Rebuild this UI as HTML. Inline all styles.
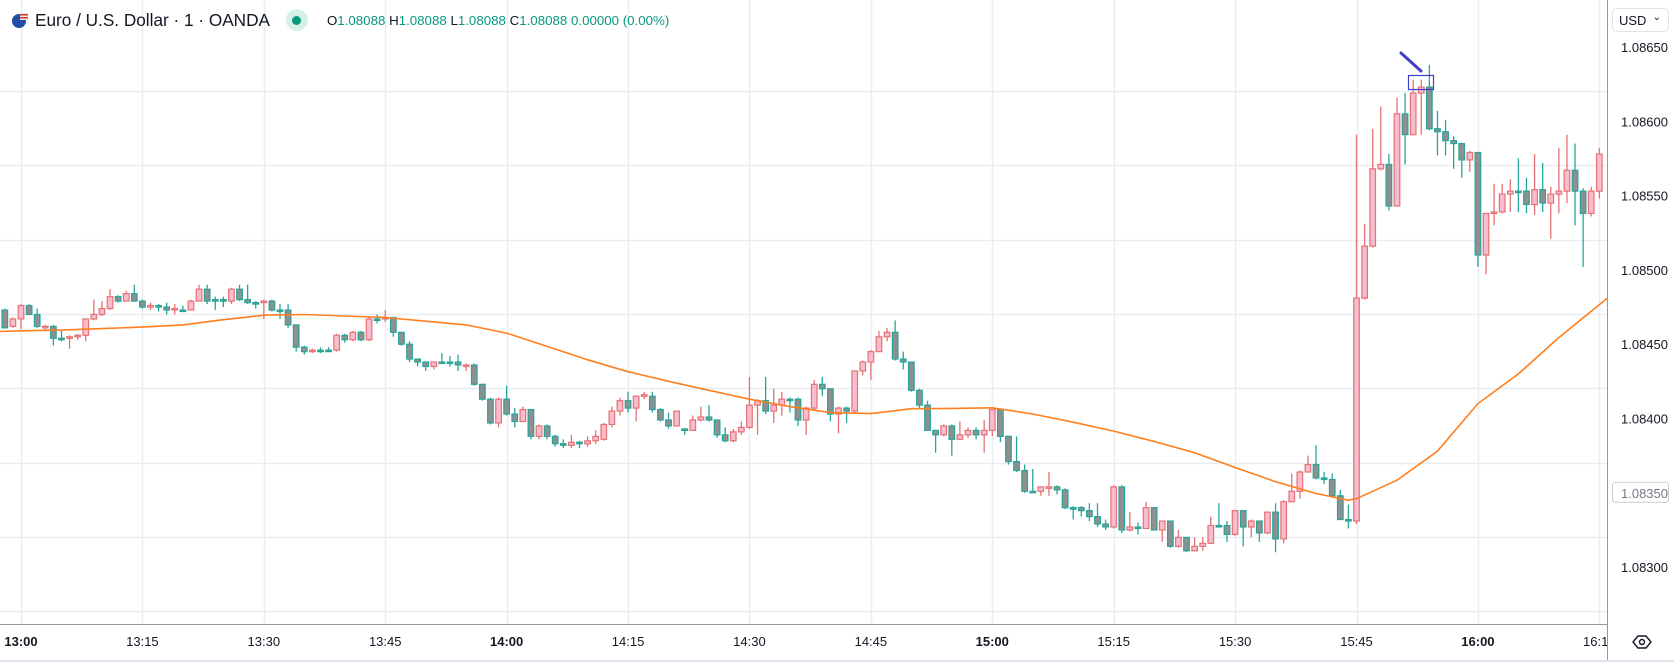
<!DOCTYPE html>
<html><head><meta charset="utf-8"><style>
html,body{margin:0;padding:0;background:#fff;}
#wrap{position:relative;width:1674px;height:662px;overflow:hidden;font-family:"Liberation Sans",sans-serif;}
svg{position:absolute;left:0;top:0;}
.hdr{position:absolute;left:10px;top:8px;height:24px;display:flex;align-items:center;font-size:17.2px;color:#131722;white-space:nowrap;}
.ohlc{color:#089981;font-size:13.3px;}
.lbl{color:#131722;}
</style></head><body>
<div id="wrap">
<svg id="chart" width="1674" height="662"></svg>
<div class="hdr">
  <svg width="20" height="20" style="position:relative"><circle cx="9" cy="11" r="7" fill="#1f4fa8"/><rect x="10" y="3" width="8" height="7" fill="#e5e5e5"/><rect x="10" y="4" width="8" height="1.5" fill="#d33"/><rect x="10" y="7" width="8" height="1.5" fill="#d33"/></svg>
  <span style="margin-left:5px">Euro / U.S. Dollar · 1 · OANDA</span>
  <span style="margin-left:16px;width:22px;height:22px;border-radius:50%;background:#d5efe9;display:inline-flex;align-items:center;justify-content:center"><span style="width:9px;height:9px;border-radius:50%;background:#089981;display:block"></span></span>
  <span class="ohlc" style="margin-left:19px"><span class="lbl">O</span>1.08088 <span class="lbl">H</span>1.08088 <span class="lbl">L</span>1.08088 <span class="lbl">C</span>1.08088 0.00000 (0.00%)</span>
</div>
<div style="position:absolute;left:1612px;top:8px;width:57px;height:24px;border:1px solid #e0e3eb;border-radius:5px;font-size:13px;color:#131722;box-sizing:border-box;padding:4px 0 0 6px">USD <span style="position:absolute;right:7px;top:3px;font-size:10px">⌄</span></div>
</div>
<script>
const startMinute = -2;
const opens = [47.3,46.2,46.7,47.6,47.0,46.1,46.2,45.4,45.4,45.5,45.6,46.7,47.0,47.4,48.2,47.9,48.4,47.9,47.5,47.6,47.5,47.3,47.3,47.3,47.9,48.7,48.0,48.0,47.9,48.7,48.0,47.8,47.8,47.9,47.3,47.3,46.3,44.8,44.5,44.6,44.6,44.6,45.6,45.3,45.8,45.3,46.7,46.7,46.8,45.8,45.0,44.0,43.8,43.5,43.8,43.8,43.8,43.5,43.6,42.3,41.3,39.7,41.3,40.3,39.8,40.6,38.8,39.5,38.8,38.3,38.2,38.4,38.3,38.5,38.6,39.6,40.5,41.2,40.7,41.5,41.5,40.6,39.9,39.5,39.3,39.2,39.9,40.1,39.9,38.9,38.5,39.1,39.4,40.9,41.2,40.5,40.9,41.3,41.3,39.9,40.7,42.3,42.0,40.3,40.7,40.5,43.2,43.8,44.5,45.5,45.8,44.0,43.8,41.9,40.9,39.2,38.9,39.5,38.6,38.9,39.2,38.9,39.2,40.6,38.8,37.1,36.5,35.1,35.1,35.3,35.4,35.2,34.0,34.0,33.8,33.4,32.9,32.7,35.4,32.5,32.7,32.6,34.0,32.5,33.1,31.4,32.0,31.1,31.4,31.6,32.8,32.8,32.2,33.8,32.7,33.1,32.3,33.7,31.9,34.4,35.1,36.4,36.9,36.0,35.9,34.8,33.2,33.1,48.1,51.6,56.8,57.1,54.3,60.5,59.1,61.9,62.3,59.5,59.3,58.7,58.5,57.4,57.9,51.0,53.8,53.9,55.1,55.3,55.3,54.4,55.4,54.5,55.1,55.3,56.7,55.3,53.8,55.3];
const highs = [47.4,46.8,47.7,47.7,47.4,46.3,46.3,45.9,45.6,45.7,46.7,48.0,47.9,48.7,48.3,48.6,49.0,48.0,47.8,47.7,47.8,47.7,47.6,48.0,49.0,49.0,48.2,48.2,48.8,49.0,49.0,47.9,48.0,48.0,47.7,47.7,46.3,44.9,44.7,44.8,44.8,45.7,45.7,45.9,45.9,46.8,47.0,47.3,46.8,45.8,45.2,44.0,43.8,43.8,44.4,44.2,44.3,43.7,43.7,42.3,41.4,41.4,42.2,40.7,40.8,40.6,39.6,39.6,38.9,38.6,38.9,38.5,38.8,39.2,39.7,40.8,41.4,41.8,41.5,41.8,41.8,40.7,40.4,40.5,39.3,40.2,40.8,40.9,39.9,39.4,39.3,39.8,42.8,41.3,42.8,42.0,41.8,41.4,41.4,40.8,42.6,42.8,42.0,40.8,40.8,43.2,43.9,44.6,45.9,46.1,46.6,44.5,43.8,42.0,41.2,39.2,39.6,39.6,39.8,39.4,39.4,39.9,40.6,40.6,38.8,38.8,36.9,36.6,35.4,36.4,35.5,35.3,34.1,34.1,34.3,34.3,33.2,35.5,35.5,33.7,33.0,34.4,34.0,33.1,33.1,32.5,32.0,32.0,32.0,33.4,34.3,33.1,33.8,33.8,33.2,33.1,33.7,34.3,34.5,36.3,36.5,37.5,38.2,36.4,36.3,35.2,34.2,59.1,53.1,59.5,61.0,57.8,61.6,61.9,62.8,62.8,63.8,60.7,60.1,59.0,58.5,58.0,57.9,53.8,55.8,55.8,56.1,57.5,56.2,57.8,57.2,55.6,58.2,59.1,58.5,55.5,55.6,58.2];
const lows = [46.1,46.1,46.0,47.0,46.1,46.0,44.9,45.2,44.7,45.3,45.2,46.6,46.9,47.3,47.8,47.9,47.9,47.4,47.3,47.2,47.0,47.0,47.3,47.3,47.9,47.7,47.3,47.5,47.7,47.9,47.7,47.4,46.7,47.2,46.7,46.1,44.5,44.3,44.4,44.4,44.5,44.5,45.1,45.2,45.2,45.2,46.4,46.5,45.5,44.9,43.8,43.5,43.2,43.3,43.7,43.5,43.2,43.2,42.2,41.2,39.6,39.4,40.2,39.4,39.8,38.6,38.6,38.6,38.1,38.0,38.0,38.0,38.1,38.3,38.5,39.4,40.2,40.4,39.8,41.3,40.4,39.8,39.3,39.5,38.9,39.2,39.8,39.8,38.7,38.4,38.4,38.9,39.3,38.9,40.3,39.7,40.2,40.4,39.5,38.9,40.6,41.5,39.8,39.0,39.7,40.4,42.9,42.6,44.5,45.2,43.9,43.3,41.8,40.6,39.2,37.7,38.8,37.5,38.6,38.7,38.6,37.7,38.8,38.4,36.9,36.4,35.0,35.0,34.8,34.8,34.9,33.9,33.2,33.4,33.1,32.7,32.5,32.6,32.3,32.4,32.2,32.6,32.5,31.7,31.3,31.3,31.0,31.1,31.1,31.6,32.8,31.7,32.1,31.4,32.0,31.7,32.2,31.0,31.6,34.4,34.6,36.4,35.9,35.6,34.7,33.2,32.6,32.9,48.0,51.5,56.7,54.0,54.3,57.1,59.1,59.1,59.4,57.7,57.7,56.8,56.2,56.6,50.2,49.7,53.0,53.8,53.9,53.9,53.8,53.7,53.9,52.1,53.8,54.5,53.0,50.2,53.6,54.8];
const closes = [46.1,46.7,47.6,47.0,46.2,46.2,45.4,45.4,45.5,45.6,46.7,47.0,47.4,48.2,47.9,48.4,47.9,47.5,47.6,47.5,47.3,47.4,47.3,47.9,48.7,47.9,48.0,48.0,48.7,48.0,47.8,47.8,47.9,47.3,47.3,46.3,44.8,44.5,44.6,44.6,44.6,45.6,45.3,45.8,45.3,46.7,46.7,46.8,45.8,45.0,44.0,43.8,43.5,43.8,43.8,43.8,43.6,43.6,42.3,41.3,39.7,41.3,40.3,39.8,40.6,38.8,39.5,38.8,38.3,38.2,38.4,38.3,38.5,38.8,39.6,40.5,41.2,40.7,41.5,41.6,40.6,39.9,39.5,40.5,39.2,39.9,40.1,39.9,38.9,38.5,39.1,39.4,40.9,41.2,40.5,40.9,41.3,41.3,39.9,40.7,42.3,42.0,40.3,40.7,40.5,43.2,43.8,44.5,45.5,45.8,44.0,43.8,41.9,40.9,39.2,38.9,39.5,38.6,38.9,39.2,38.9,39.2,40.6,38.8,37.1,36.5,35.1,35.1,35.4,35.4,35.2,34.0,34.0,33.8,33.4,32.9,32.7,35.4,32.5,32.7,32.6,34.0,32.5,33.1,31.4,32.0,31.1,31.4,31.6,32.8,32.8,32.2,33.8,32.7,33.1,32.3,33.7,31.9,34.4,35.1,36.4,36.9,36.0,35.9,34.8,33.2,33.1,48.1,51.6,56.8,57.1,54.3,60.5,59.1,61.9,62.3,59.5,59.3,58.7,58.5,57.4,57.9,51.0,53.8,53.9,55.1,55.3,55.3,54.4,55.4,54.5,55.1,55.3,56.7,55.3,53.8,55.3,57.8];
const maMinutes = [-3,0,5,10,15,20,25,30,35,40,45,50,55,60,65,70,75,80,85,90,95,100,105,110,115,120,125,130,135,140,145,150,155,160,164,165,170,175,180,185,190,196];
const maValues = [45.85,45.9,45.95,46.05,46.15,46.3,46.65,46.95,47.0,46.9,46.8,46.55,46.3,45.75,44.85,43.95,43.15,42.5,41.9,41.3,40.8,40.4,40.33,40.66,40.68,40.72,40.3,39.75,39.15,38.45,37.7,36.7,35.75,34.95,34.5,34.6,35.85,37.8,41.0,43.0,45.45,48.1];
const priceTicks = ["1.08650","1.08600","1.08550","1.08500","1.08450","1.08400","1.08350","1.08300"];
const priceTickPips = [65,60,55,50,45,40,35,30];
const timeLabels = ["13:00","13:15","13:30","13:45","14:00","14:15","14:30","14:45","15:00","15:15","15:30","15:45","16:00","16:15"];
const timeLabelMinutes = [0,15,30,45,60,75,90,105,120,135,150,165,180,195];
const boldTimes = ["13:00","14:00","15:00","16:00"];

const NS = "http://www.w3.org/2000/svg";
const svg = document.getElementById('chart');
const PLOT_R = 1607, PLOT_B = 624;
function xS(m){ return 21 + 8.094*m; }
function yS(p){ return 47 + (65 - p)*14.86; }
function mk(tag, attrs, parent){
  const e = document.createElementNS(NS, tag);
  for (const k in attrs) e.setAttribute(k, attrs[k]);
  (parent||svg).appendChild(e);
  return e;
}
const defs = mk('defs',{});
const cp = mk('clipPath',{id:'plotclip'},defs);
mk('rect',{x:0,y:0,width:PLOT_R,height:PLOT_B},cp);
const cp2 = mk('clipPath',{id:'plotclip2'},defs);
mk('rect',{x:0,y:0,width:PLOT_R,height:662},cp2);

const grid = mk('g',{});


timeLabelMinutes.forEach(m=>{
  const x = Math.round(xS(m))+0.5;
  if (x < PLOT_R) {
    const l = mk('line',{x1:x,x2:x,y1:0,y2:PLOT_B,stroke:'#e9eef3','stroke-width':1.5},grid);
    
    
  }
});
priceTickPips.forEach(p=>{
  const y = Math.round(yS(p)+44)+0.5;
  const l = mk('line',{x1:0,x2:PLOT_R,y1:y,y2:y,stroke:'#e9eef3','stroke-width':1.5},grid);
  
  
});

const cg = mk('g',{'clip-path':'url(#plotclip)'});


for (let i=0;i<closes.length;i++){
  const m = startMinute + i;
  const x = xS(m);
  const o=opens[i], c=closes[i], h=highs[i], l=lows[i];
  const up = c > o;
  const edge = up ? '#e57373' : '#26a69a';
  const fill = up ? '#f8bbd0' : '#8f8f8f';
  const g = mk('g',{},cg);
  
  
  mk('line',{x1:x,x2:x,y1:yS(h),y2:yS(l),stroke:edge,'stroke-width':1.3},g);
  const top = yS(Math.max(o,c)), bot = yS(Math.min(o,c));
  const hgt = Math.max(bot-top,1.5);
  mk('rect',{x:x-2.8,y:top,width:5.6,height:hgt,fill:fill,stroke:edge,'stroke-width':1.2},g);
}

let d='';
maMinutes.forEach((m,i)=>{ d += (i?'L':'M') + xS(m).toFixed(1) + ' ' + yS(maValues[i]).toFixed(1) + ' '; });
const ma = mk('path',{d:d,fill:'none',stroke:'#ff7f1e','stroke-width':1.6,'clip-path':'url(#plotclip)','stroke-linejoin':'round'});



const arrow = mk('line',{x1:1401,y1:53,x2:1421,y2:71,stroke:'#3f3fc8','stroke-width':3,'stroke-linecap':'round'});


const box = mk('rect',{x:1408.5,y:75.5,width:25,height:14,fill:'none',stroke:'#3f3fc8','stroke-width':1.2});



const ax = mk('line',{x1:PLOT_R+0.5,x2:PLOT_R+0.5,y1:0,y2:662,stroke:'#9598a1','stroke-width':1});


const bx = mk('line',{x1:0,x2:PLOT_R,y1:PLOT_B+0.5,y2:PLOT_B+0.5,stroke:'#9598a1','stroke-width':1});


mk('rect',{x:0,y:660,width:1674,height:2,fill:'#e0e3eb'});

priceTicks.forEach((t,i)=>{
  const y = yS(priceTickPips[i]);
  if (t === "1.08350") {
    const r = mk('rect',{x:1612.5,y:y-10.5,width:56,height:20,rx:3,fill:'#fff',stroke:'#c8cbd2'});
    
    
  }
  const tx = mk('text',{x:1621,y:y+5,'font-size':13,fill: t==="1.08350"?'#787b86':'#131722','font-family':'Liberation Sans, sans-serif'});
  tx.textContent = t;
  
  
});
timeLabels.forEach((t,i)=>{
  const x = xS(timeLabelMinutes[i]);
  const tx = mk('text',{x:x,y:646,'font-size':13,'text-anchor':'middle',fill:'#131722','font-weight':boldTimes.includes(t)?'bold':'normal','font-family':'Liberation Sans, sans-serif','clip-path':'url(#plotclip2)'});
  tx.textContent = t;
  
  
});
const eye = mk('g',{transform:'translate(1642,642)'});


mk('path',{d:'M-9 0 L-4 -6 L4 -6 L9 0 L4 6 L-4 6 Z',fill:'none',stroke:'#131722','stroke-width':1.4},eye);
mk('circle',{cx:0,cy:0,r:2.5,fill:'none',stroke:'#131722','stroke-width':1.4},eye);
</script>
</body></html>
